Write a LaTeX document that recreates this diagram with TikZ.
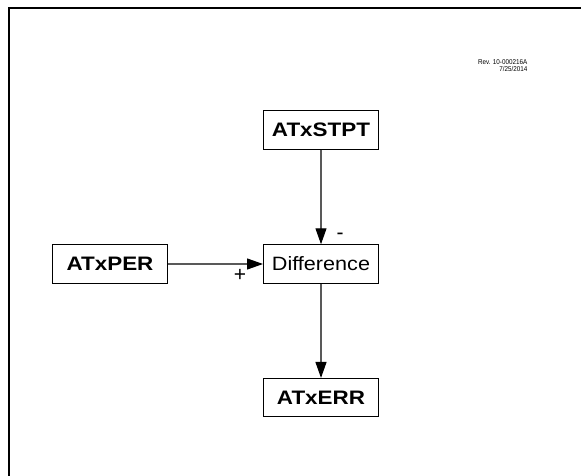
\documentclass[tikz,border=0pt]{standalone}
\usepackage{fontspec}
\setmainfont{Liberation Sans}
\newfontfamily\boxbold[FakeStretch=1.15]{Liberation Sans Bold}
\newfontfamily\boxreg[FakeStretch=1.12]{Liberation Sans}
\newfontfamily\revfont[FakeStretch=0.9]{Liberation Sans}
\usetikzlibrary{arrows.meta}
\begin{document}
\begin{tikzpicture}[x=1pt,y=-1pt,
  blk/.style={draw=black,line width=1pt,minimum width=115pt,minimum height=38.5pt,inner sep=0pt,fill=white},
  lbl/.style={font=\boxbold\fontsize{19.5}{21}\selectfont},
  lblr/.style={font=\boxreg\fontsize{19.3}{21}\selectfont},
  conn/.style={draw=black!65,line width=1.2pt,-{Triangle[length=16pt,width=11pt,fill=black,color=black]}},
  sign/.style={font=\fontsize{21}{22}\selectfont,inner sep=0pt}]
\useasboundingbox (0,0) rectangle (581,476);
\fill[white] (0,0) rectangle (581,476);
\draw[line width=2pt] (581,8.5) -- (8.5,8.5) -- (8.5,476);
\node[font=\revfont\fontsize{7}{7}\selectfont,anchor=north east,align=right,inner sep=0pt] (rev) at (527.5,59) {Rev. 10-000216A\\7/25/2014};
\node[blk,lbl] (stpt) at (321,130) {ATxSTPT};
\node[blk,lblr] (diff) at (321,264) {Difference};
\node[blk,lbl] (per) at (110,264) {ATxPER};
\node[blk,lbl] (err) at (321,397.7) {ATxERR};
\draw[conn] (stpt) -- (diff);
\draw[conn] (per) -- (diff);
\draw[conn] (diff) -- (err);
\node[sign] (minus) at (340,236.5) {-};
\node[sign] (plus) at (240,275.5) {+};
\end{tikzpicture}
\end{document}
